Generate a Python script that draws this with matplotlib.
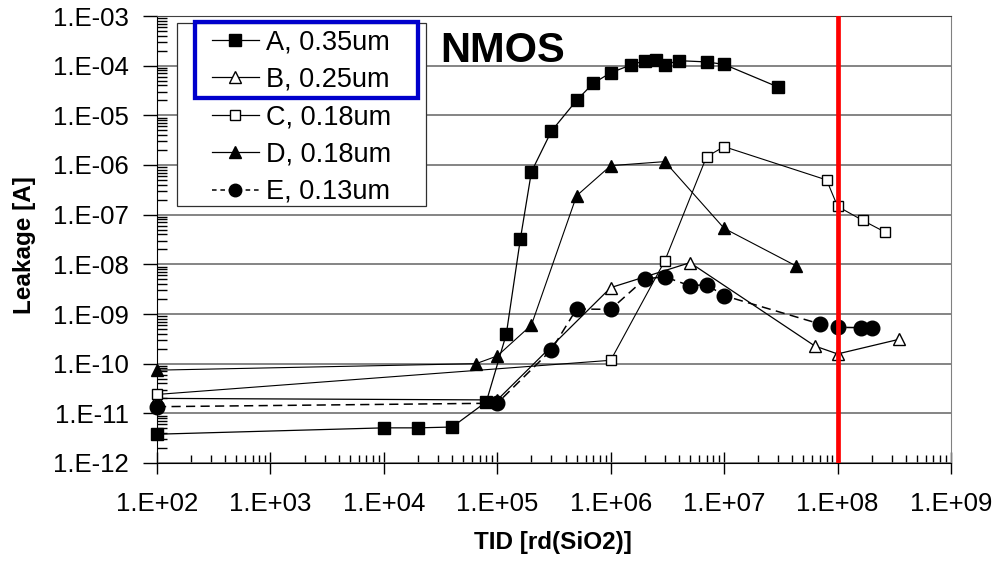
import matplotlib
matplotlib.use("Agg")
import matplotlib.pyplot as plt
from matplotlib.ticker import FixedLocator, FuncFormatter, NullFormatter
from matplotlib.patches import Rectangle
from matplotlib.lines import Line2D

plt.rcParams['font.family'] = ['Liberation Sans', 'DejaVu Sans']

# Leakage vs total ionizing dose
A_x = [1e2, 1e4, 2e4, 4e4, 8e4, 1.2e5, 1.6e5, 2e5, 3e5, 5e5, 7e5, 1e6,
       1.5e6, 2e6, 2.5e6, 3e6, 4e6, 7e6, 1e7, 3e7]
A_y = [3.8e-12, 5.1e-12, 5.1e-12, 5.3e-12, 1.7e-11, 3.9e-10, 3.3e-8, 7.3e-7,
       4.8e-6, 2.0e-5, 4.4e-5, 7.2e-5, 1.03e-4, 1.26e-4, 1.3e-4, 1.05e-4,
       1.26e-4, 1.19e-4, 1.06e-4, 3.7e-5]

B_x = [1e2, 1e5, 1e6, 5e6, 6.3e7, 1e8, 3.5e8]
B_y = [2.0e-11, 1.86e-11, 3.4e-9, 1.08e-8, 2.27e-10, 1.57e-10, 3.1e-10]

C_x = [1e2, 1e6, 3e6, 7e6, 1e7, 8e7, 1e8, 1.66e8, 2.6e8]
C_y = [2.4e-11, 1.17e-10, 1.18e-8, 1.47e-6, 2.34e-6, 5.0e-7, 1.47e-7, 7.7e-8, 4.5e-8]

D_x = [1e2, 6.5e4, 1e5, 2e5, 5e5, 1e6, 3e6, 1e7, 4.3e7]
D_y = [7.4e-11, 1.0e-10, 1.43e-10, 6.0e-10, 2.4e-7, 9.7e-7, 1.17e-6, 5.3e-8, 9.3e-9]

E_x = [1e2, 1e5, 3e5, 5e5, 1e6, 2e6, 3e6, 5e6, 7e6, 1e7, 7e7, 1e8, 1.6e8, 2e8]
E_y = [1.36e-11, 1.6e-11, 1.9e-10, 1.26e-9, 1.24e-9, 5.1e-9, 5.6e-9, 3.7e-9,
       3.9e-9, 2.34e-9, 6.3e-10, 5.4e-10, 5.3e-10, 5.3e-10]

labels = ['A, 0.35um', 'B, 0.25um', 'C, 0.18um', 'D, 0.18um', 'E, 0.13um']
x_ticks = [1e2, 1e3, 1e4, 1e5, 1e6, 1e7, 1e8, 1e9]
y_ticks = [1e-12, 1e-11, 1e-10, 1e-9, 1e-8, 1e-7, 1e-6, 1e-5, 1e-4, 1e-3]
dose_limit = 1e8

W, H = 996, 564
fig = plt.figure(figsize=(W / 100, H / 100), dpi=100)
ax = fig.add_axes([157 / W, (H - 463) / H, (951 - 157) / W, (463 - 16) / H])

ax.set_xscale('log')
ax.set_yscale('log')
ax.set_xlim(x_ticks[0], x_ticks[-1])
ax.set_ylim(y_ticks[0], y_ticks[-1])

common = dict(color='black', clip_on=False, zorder=3)
ax.plot(A_x, A_y, marker='s', ms=8.5, lw=0.9, mfc='black', **common)
ax.plot(B_x, B_y, marker='^', ms=9, lw=0.9, mfc='white', mew=1, **common)
ax.plot(C_x, C_y, marker='s', ms=7.5, lw=0.8, mfc='white', mew=1, **common)
ax.plot(D_x, D_y, marker='^', ms=9, lw=0.8, mfc='black', **common)
ax.plot(E_x, E_y, marker='o', ms=10.5, lw=1.1, mfc='black',
        linestyle=(0, (6, 3.5)), **common)

# red limit line
ax.axvline(dose_limit, color='#ff0000', lw=3.4, zorder=4)

# axes styling
ax.yaxis.grid(True, which='major', color='#707070', lw=1.2)
ax.set_axisbelow(True)
ax.spines['left'].set_color('black')
ax.spines['bottom'].set_color('black')
ax.spines['top'].set_color('#404040')
ax.spines['right'].set_color('#808080')

# minor ticks at 2..9 of every decade
x_minor = [m * d for d in x_ticks[:-1] for m in range(2, 10)]
y_minor = [m * d for d in y_ticks[:-1] for m in range(2, 10)]
ax.xaxis.set_major_locator(FixedLocator(x_ticks))
ax.xaxis.set_minor_locator(FixedLocator(x_minor))
ax.yaxis.set_major_locator(FixedLocator(y_ticks))
ax.yaxis.set_minor_locator(FixedLocator(y_minor))

def exp_fmt(v, pos):
    import math
    e = int(round(math.log10(v)))
    sign = '+' if e >= 0 else '-'
    return '1.E%s%02d' % (sign, abs(e))

ax.xaxis.set_major_formatter(FuncFormatter(exp_fmt))
ax.yaxis.set_major_formatter(FuncFormatter(exp_fmt))
ax.xaxis.set_minor_formatter(NullFormatter())
ax.yaxis.set_minor_formatter(NullFormatter())

ax.tick_params(axis='x', which='major', direction='inout', length=16, width=1,
               pad=13, labelsize=18.5)
ax.tick_params(axis='x', which='minor', direction='in', length=6, width=1)
ax.tick_params(axis='y', which='major', direction='out', length=10, width=1,
               pad=10, labelsize=18.5)
ax.tick_params(axis='y', which='minor', direction='in', length=7, width=1)

# axis titles
fig.text(553 / W, 1 - 543 / H, 'TID [rd(SiO2)]', ha='center', va='center',
         fontsize=17.5, fontweight='bold')
fig.text(25 / W, 1 - 245 / H, 'Leakage [A]', ha='center', va='center',
         rotation=90, fontsize=17.5, fontweight='bold')
fig.text(440 / W, 1 - 61.7 / H, 'NMOS', ha='left', va='baseline',
         fontsize=30, fontweight='bold')

# legend with a hand-drawn frame
handles = [
    Line2D([], [], color='black', lw=0.9, marker='s', ms=8.5, mfc='black'),
    Line2D([], [], color='black', lw=0.9, marker='^', ms=8, mfc='white'),
    Line2D([], [], color='black', lw=0.9, marker='s', ms=6.5, mfc='white'),
    Line2D([], [], color='black', lw=0.9, marker='^', ms=8, mfc='black'),
    Line2D([], [], color='black', lw=1.1, marker='o', ms=9, mfc='black',
           linestyle=(0, (3, 2.5))),
]
fig.patches.append(Rectangle((176.7 / W, 1 - 206 / H), (426 - 176.7) / W,
                             (206 - 22.7) / H, transform=fig.transFigure,
                             facecolor='white', edgecolor='#303030', lw=0.9,
                             zorder=2))
fig.legend(handles, labels, loc='upper left',
           bbox_to_anchor=(211.7 / W, 1 - 29.5 / H), bbox_transform=fig.transFigure,
           frameon=False, borderpad=0, borderaxespad=0, fontsize=19.5,
           handlelength=1.75, handletextpad=0.27, labelspacing=0.42)
fig.patches.append(Rectangle((194.5 / W, 1 - 98 / H), (418 - 194.5) / W,
                             (98 - 21.5) / H, transform=fig.transFigure,
                             facecolor='none', edgecolor='#0000cc', lw=3.1,
                             zorder=6))

fig.savefig('out.png', dpi=100)
